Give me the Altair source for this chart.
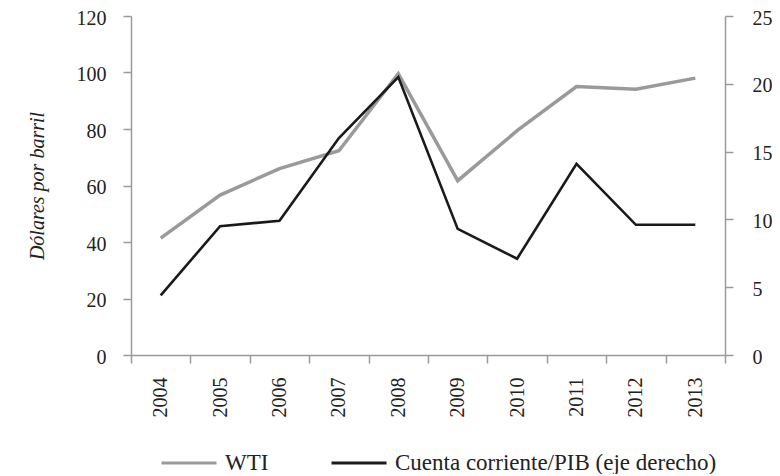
import altair as alt
import pandas as pd

years = ["2004", "2005", "2006", "2007", "2008", "2009", "2010", "2011", "2012", "2013"]
wti = [41.4, 56.6, 66.0, 72.3, 99.6, 61.7, 79.4, 95.0, 94.1, 98.0]
cuenta = [4.4, 9.5, 9.9, 16.0, 20.5, 9.3, 7.1, 14.1, 9.6, 9.6]
series_names = ["WTI", "Cuenta corriente/PIB (eje derecho)"]
series_colors = ["#9a9a9a", "#1a1a1a"]
left_ticks = [0, 20, 40, 60, 80, 100, 120]
right_ticks = [0, 5, 10, 15, 20, 25]

df1 = pd.DataFrame({"year": years, "value": wti, "serie": series_names[0]})
df2 = pd.DataFrame({"year": years, "value": cuenta, "serie": series_names[1]})

FONT = "Liberation Serif, Times New Roman, serif"
AX = "#9a9a9a"
TXT = "#222222"

x_enc = alt.X(
    "year:O",
    bandPosition=0.5,
    scale=alt.Scale(type="band", paddingInner=0, paddingOuter=0),
    axis=alt.Axis(
        title=None, labelAngle=-90, tickBand="extent", tickSize=8,
        labelPadding=14, domainColor=AX, tickColor=AX, domainWidth=1.5, tickWidth=1.5,
        labelFont=FONT, labelFontSize=20, labelColor=TXT,
    ),
)

color_enc = alt.Color("serie:N", scale=alt.Scale(domain=series_names, range=series_colors))

l1 = alt.Chart(df1).mark_line(strokeWidth=3.5).encode(
    x=x_enc,
    y=alt.Y(
        "value:Q",
        scale=alt.Scale(domain=[0, 120]),
        axis=alt.Axis(
            title="Dólares por barril", orient="left", values=left_ticks, grid=False,
            tickSize=8, labelPadding=17, labelOffset=2, domainColor=AX, tickColor=AX,
            domainWidth=1.5, tickWidth=1.5,
            labelFont=FONT, labelFontSize=20, labelColor=TXT,
            titleFont=FONT, titleFontSize=20, titleFontStyle="italic", titleFontWeight="normal",
            titleColor=TXT, titlePadding=29,
        ),
    ),
    color=color_enc,
)

l2 = alt.Chart(df2).mark_line(strokeWidth=2.6).encode(
    x=x_enc,
    y=alt.Y(
        "value:Q",
        scale=alt.Scale(domain=[0, 25]),
        axis=alt.Axis(
            title=None, orient="right", values=right_ticks, grid=False,
            tickSize=8, labelPadding=19, labelOffset=2, domainColor=AX, tickColor=AX,
            domainWidth=1.5, tickWidth=1.5,
            labelFont=FONT, labelFontSize=20, labelColor=TXT,
        ),
    ),
    color=color_enc,
)

chart = (
    alt.layer(l1, l2)
    .resolve_scale(y="independent")
    .properties(
        width=594, height=339,
        padding={"left": 123, "top": 8, "right": 47, "bottom": 119},
        autosize=alt.AutoSizeParams(type="none"),
    )
    .configure_view(stroke=None)
    .configure_legend(
        orient="none", legendX=29, legendY=418, direction="horizontal",
        title=None, symbolType="stroke", symbolSize=3025, symbolStrokeWidth=3,
        labelFont=FONT, labelFontSize=23, labelColor=TXT, columnPadding=56,
        labelOffset=7, padding=0, labelLimit=600,
    )
)

chart.save("out.html", embed_options={"renderer": "svg", "actions": False})
